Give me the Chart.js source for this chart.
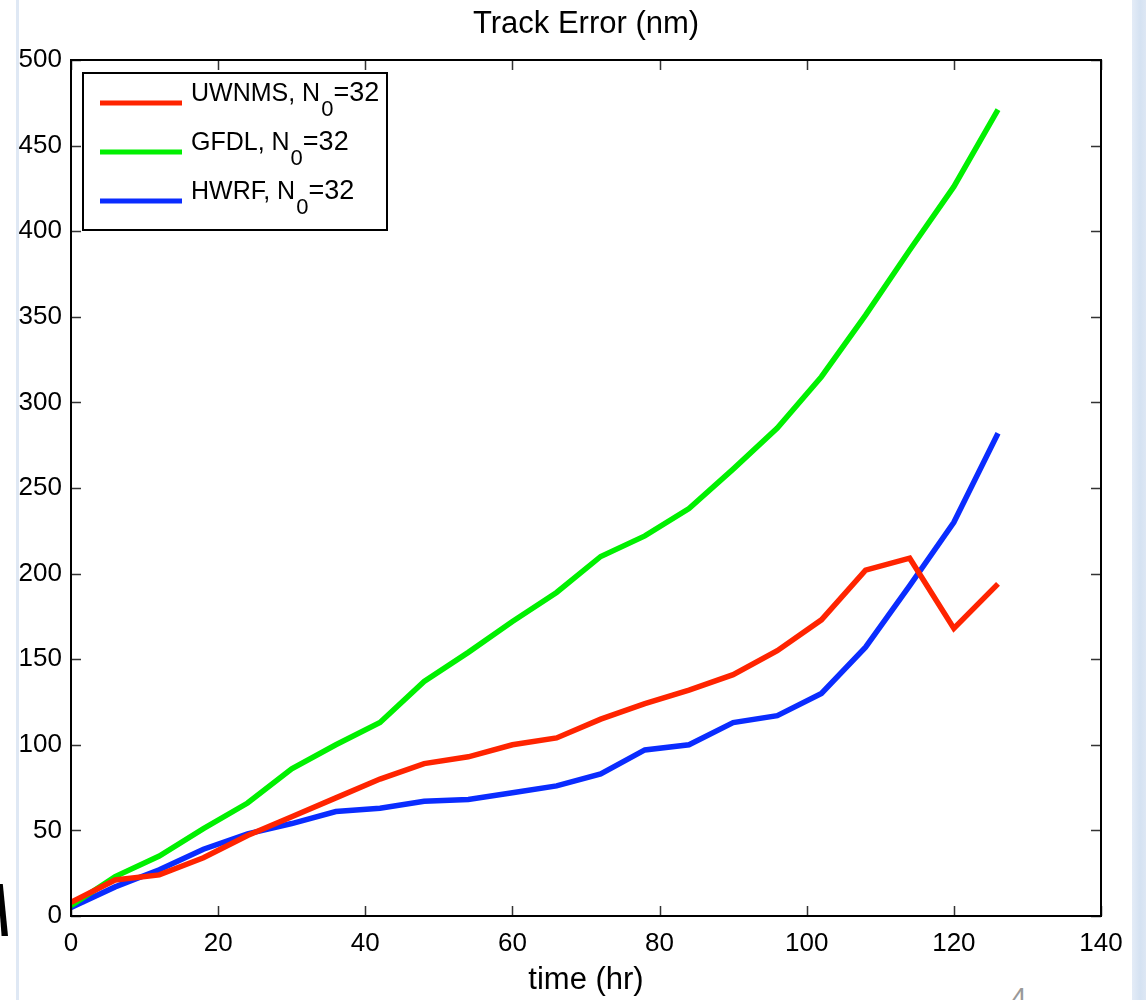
<!DOCTYPE html>
<html>
<head>
<meta charset="utf-8">
<script src="https://cdn.jsdelivr.net/npm/chart.js@4/dist/chart.umd.min.js"></script>
<style>
  html, body { margin: 0; padding: 0; background: #ffffff; overflow: hidden; }
  #wrap { position: relative; width: 1146px; height: 1000px; overflow: hidden; }
  #stripL { position: absolute; left: 16px; top: 0; width: 3px; height: 1000px; background: #dfe8f4; }
  #stripR { position: absolute; left: 1132px; top: 0; width: 14px; height: 1000px;
            background: linear-gradient(90deg, #e4ecf7, #d5e2f2 60%, #dde7f4); }
  #mark { position: absolute; left: 0; top: 884px; width: 8px; height: 52px; background: #000;
          clip-path: polygon(0 0, 35% 0, 100% 100%, 20% 100%, 0 60%); }
  #pg { position: absolute; left: 1011px; top: 982px; font: 28px "Liberation Sans", Arial, sans-serif; color: #999; }
  canvas { position: absolute; left: 0; top: 0; }
</style>
</head>
<body>
<div id="wrap">
  <div id="stripL"></div>
  <div id="stripR"></div>
  <div id="mark"></div>
  <div id="pg">4</div>
  <canvas id="c" width="1146" height="1000"></canvas>
</div>
<script>
// ---- data ----
const hours = [0, 6, 12, 18, 24, 30, 36, 42, 48, 54, 60, 66, 72, 78, 84, 90, 96, 102, 108, 114, 120, 126];
const uwnms = [8, 21, 24, 34, 47, 58, 69, 80, 89, 93, 100, 104, 115, 124, 132, 141, 155, 173, 202, 209, 168, 194];
const gfdl  = [6, 23, 35, 51, 66, 86, 100, 113, 137, 154, 172, 189, 210, 222, 238, 261, 285, 315, 351, 389, 426, 471];
const hwrf  = [5, 17, 27, 39, 48, 54, 61, 63, 67, 68, 72, 76, 83, 97, 100, 113, 117, 130, 157, 193, 230, 282];
const seriesNames = ['UWNMS, N', 'GFDL, N', 'HWRF, N'];
const seriesSub = ['0', '0', '0'];
const seriesTail = ['=32', '=32', '=32'];
const seriesColors = ['#ff2400', '#00f000', '#0a2cff'];
const xTicks = [0, 20, 40, 60, 80, 100, 120, 140];
const yTicks = [0, 50, 100, 150, 200, 250, 300, 350, 400, 450, 500];
const titleText = 'Track Error (nm)';
const xTitle = 'time (hr)';

const FONT = '"Liberation Sans", Arial, Helvetica, sans-serif';
const toPts = (arr) => hours.map((h, i) => ({ x: h, y: arr[i] }));
const seriesData = [uwnms, gfdl, hwrf];

const matlabFrame = {
  id: 'matlabFrame',
  afterDatasetsDraw(chart) {
    const ctx = chart.ctx;
    const a = chart.chartArea;
    const xs = chart.scales.x, ys = chart.scales.y;
    ctx.save();
    // title centred over the plot area
    ctx.fillStyle = '#000';
    ctx.font = '31px ' + FONT;
    ctx.textAlign = 'center';
    ctx.textBaseline = 'alphabetic';
    ctx.fillText(titleText, (a.left + a.right) / 2, 33);
    // inward ticks
    ctx.strokeStyle = '#333';
    ctx.lineWidth = 1.5;
    const tl = 10;
    ctx.beginPath();
    xTicks.forEach(v => {
      const p = Math.round(xs.getPixelForValue(v)) + 0.5;
      ctx.moveTo(p, a.bottom); ctx.lineTo(p, a.bottom - tl);
      ctx.moveTo(p, a.top); ctx.lineTo(p, a.top + tl);
    });
    yTicks.forEach(v => {
      const p = Math.round(ys.getPixelForValue(v)) + 0.5;
      ctx.moveTo(a.left, p); ctx.lineTo(a.left + tl, p);
      ctx.moveTo(a.right, p); ctx.lineTo(a.right - tl, p);
    });
    ctx.stroke();
    // box
    ctx.strokeStyle = '#000';
    ctx.lineWidth = 2;
    ctx.strokeRect(a.left, a.top, a.right - a.left, a.bottom - a.top);

    // legend
    const lx = a.left + 12, ly = a.top + 13, lw = 304, lh = 157;
    ctx.fillStyle = '#fff';
    ctx.fillRect(lx, ly, lw, lh);
    ctx.lineWidth = 2;
    ctx.strokeRect(lx, ly, lw, lh);
    chart.data.datasets.forEach((ds, i) => {
      const cy = ly + 30 + i * 49;
      ctx.strokeStyle = ds.borderColor;
      ctx.lineWidth = 5;
      ctx.beginPath();
      ctx.moveTo(lx + 17, cy); ctx.lineTo(lx + 99, cy);
      ctx.stroke();
      ctx.fillStyle = '#000';
      ctx.textBaseline = 'alphabetic';
      ctx.textAlign = 'left';
      ctx.font = '25px ' + FONT;
      let tx = lx + 108;
      const base = cy - 2;
      ctx.fillText(seriesNames[i], tx, base);
      tx += ctx.measureText(seriesNames[i]).width + 1;
      ctx.font = '22px ' + FONT;
      ctx.fillText(seriesSub[i], tx, base + 15);
      tx += ctx.measureText(seriesSub[i]).width;
      ctx.font = '27px ' + FONT;
      ctx.fillText(seriesTail[i], tx, base);
    });
    ctx.restore();
  }
};

new Chart(document.getElementById('c'), {
  type: 'line',
  data: {
    datasets: seriesData.map((arr, i) => ({
      label: seriesNames[i] + seriesSub[i] + seriesTail[i],
      data: toPts(arr),
      borderColor: seriesColors[i],
      backgroundColor: seriesColors[i],
      borderWidth: 5.5,
      pointRadius: 0,
      tension: 0,
      fill: false,
      borderJoinStyle: 'miter'
    }))
  },
  options: {
    responsive: false,
    animation: false,
    devicePixelRatio: 1,
    layout: { padding: { left: 0, right: 45, top: 60, bottom: 0 } },
    plugins: {
      legend: { display: false },
      tooltip: { enabled: false },
      title: { display: false }
    },
    scales: {
      x: {
        type: 'linear',
        min: 0, max: 140,
        afterBuildTicks: (s) => { s.ticks = xTicks.map(v => ({ value: v })); },
        afterFit: (s) => { s.height = 84; },
        ticks: { color: '#000', font: { family: FONT, size: 26 }, padding: 12, maxRotation: 0, autoSkip: false },
        grid: { display: false, drawTicks: false },
        border: { display: true, color: '#000', width: 2 },
        title: { display: true, text: xTitle, color: '#000', font: { family: FONT, size: 31, lineHeight: 1.2 }, padding: { top: 0, bottom: 1 } }
      },
      y: {
        type: 'linear',
        min: 0, max: 500,
        afterBuildTicks: (s) => { s.ticks = yTicks.map(v => ({ value: v })); },
        afterFit: (s) => { s.width = 71; },
        ticks: { color: '#000', font: { family: FONT, size: 26 }, padding: 9, autoSkip: false },
        grid: { display: false, drawTicks: false },
        border: { display: true, color: '#000', width: 2 }
      }
    }
  },
  plugins: [matlabFrame]
});
</script>
</body>
</html>
